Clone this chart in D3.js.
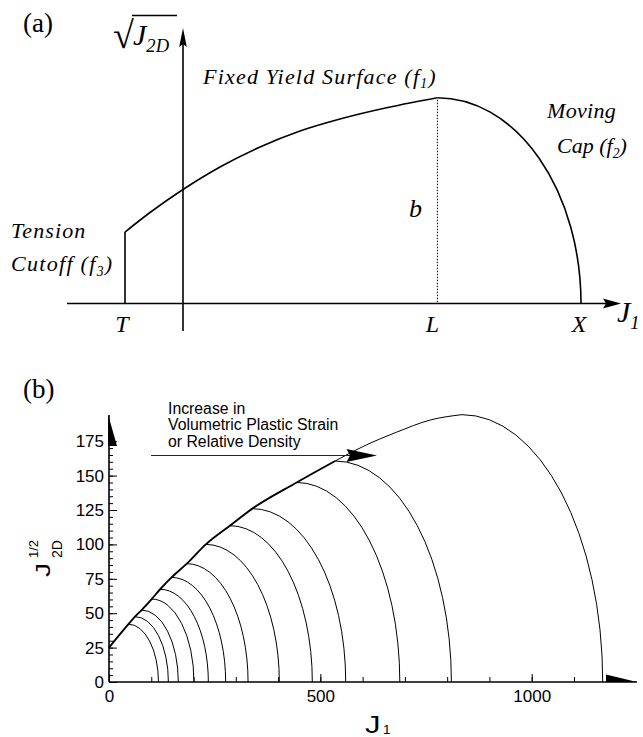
<!DOCTYPE html>
<html><head><meta charset="utf-8">
<script src="https://cdn.jsdelivr.net/npm/d3@7"></script>
<style>
  body { margin: 0; background: #fff; }
  svg text { fill: #000; }
</style>
</head>
<body>
<svg id="chart" width="643" height="737"></svg>
<script>
// ---------- (b) cap model: yield surface and cap family ----------
// cap centre (L), cap height at L (b), and cap end on the J1 axis (X)
const capL = [46, 61.5, 77, 101, 121, 148, 184, 229, 286, 339, 444, 535, 835];
const capB = [42, 47.5, 52.3, 60.3, 67.4, 76, 86, 100, 113.6, 126, 145, 160.6, 194.3];
const capX = [117, 140.5, 164, 201, 235, 276, 329, 403, 481, 560, 688, 810, 1168];

// fixed yield surface sqrt(J2D) vs J1
const yieldJ1 = [0, 46, 61.5, 77, 101, 121, 148, 184, 229, 286, 339, 444, 535, 600, 680, 760, 835];
const yieldJ2 = [25, 42, 47.5, 52.3, 60.3, 67.4, 76, 86, 100, 113.6, 126, 145, 160.6, 171, 181.5, 190.4, 194.3];

const xMajor = [0, 500, 1000];
const xMinor = d3.range(0, 1200, 100);
const yMajor = [0, 25, 50, 75, 100, 125, 150, 175];
const yMinor = d3.range(0, 180, 5);

const noteLines = ["Increase in", "Volumetric Plastic Strain", "or Relative Density"];

// ---------- (a) schematic, arbitrary units ----------
const schemU = [-14.5, -8.25, 0, 9.25, 19.25, 29.25, 39.25, 51.75, 63.6];
const schemV = [34.74, 44.22, 55.39, 66.33, 76.04, 83.82, 89.65, 95.48, 100];
const schemT = -14.5, schemLpos = 63.6, schemX = 99.5, schemB = 100;

const svg = d3.select("#chart");
const serif = "'Liberation Serif', 'Times New Roman', serif";
const sans = "'Liberation Sans', Arial, Helvetica, sans-serif";

// =================== panel (a) ===================
const xa = d3.scaleLinear().domain([0, 100]).range([183, 583]);
const ya = d3.scaleLinear().domain([0, 100]).range([303.5, 97.7]);
const ga = svg.append("g");

// axes with arrowheads
ga.append("line").attr("x1", 67).attr("x2", 606).attr("y1", ya(0)).attr("y2", ya(0))
  .attr("stroke", "#000").attr("stroke-width", 1.6);
ga.append("path").attr("d", `M603,${ya(0)-5} L621,${ya(0)} L603,${ya(0)+5} L606,${ya(0)} Z`).attr("fill", "#000");
ga.append("line").attr("x1", xa(0)).attr("x2", xa(0)).attr("y1", 331).attr("y2", 44)
  .attr("stroke", "#000").attr("stroke-width", 1.6);
ga.append("path").attr("d", `M${xa(0)-3.8},47 L${xa(0)},28 L${xa(0)+3.8},47 L${xa(0)},44 Z`).attr("fill", "#000");

// tension cutoff + fixed yield surface
const schemPts = schemU.map((u, i) => [u, schemV[i]]);
ga.append("path")
  .attr("d", d3.line().x(d => xa(d[0])).y(d => ya(d[1])).curve(d3.curveMonotoneX)(schemPts))
  .attr("fill", "none").attr("stroke", "#000").attr("stroke-width", 1.6);
ga.append("line").attr("x1", xa(schemT)).attr("x2", xa(schemT))
  .attr("y1", ya(0)).attr("y2", ya(schemV[0]))
  .attr("stroke", "#000").attr("stroke-width", 1.6);

// moving cap: quarter ellipse from (L, b) to (X, 0)
{
  const rx = xa(schemX) - xa(schemLpos), ry = ya(0) - ya(schemB);
  ga.append("path")
    .attr("d", `M${xa(schemLpos)},${ya(schemB)} A${rx},${ry} 0 0 1 ${xa(schemX)},${ya(0)}`)
    .attr("fill", "none").attr("stroke", "#000").attr("stroke-width", 1.6);
}
// b : dotted height at L
ga.append("line").attr("x1", xa(schemLpos)).attr("x2", xa(schemLpos))
  .attr("y1", ya(schemB) + 2).attr("y2", ya(0))
  .attr("stroke", "#000").attr("stroke-width", 1).attr("stroke-dasharray", "1.5,1.5");

function itText(g, x, y, size, parts, anchor, spacing) {
  const t = g.append("text").attr("x", x).attr("y", y)
    .attr("font-family", serif).attr("font-size", size).attr("font-style", "italic")
    .attr("letter-spacing", spacing || 0)
    .attr("text-anchor", anchor || "start");
  parts.forEach(p => {
    const s = t.append("tspan").text(p.t);
    if (p.sub) s.attr("font-size", size * 0.62).attr("dy", size * 0.22);
    if (p.up) s.attr("dy", -size * 0.22);
  });
  return t;
}
ga.append("text").attr("x", 23).attr("y", 32).attr("font-family", serif).attr("font-size", 27).text("(a)");

itText(ga, 203, 83.5, 22, [{t: "Fixed Yield Surface ("}, {t: "f"}, {t: "1", sub: true}, {t: ")", up: true}], null, 1.2);
itText(ga, 547, 118, 22, [{t: "Moving"}], null, 0.3);
itText(ga, 557, 153, 22, [{t: "Cap ("}, {t: "f"}, {t: "2", sub: true}, {t: ")", up: true}]);
itText(ga, 11, 238, 22, [{t: "Tension"}], null, 1.1);
itText(ga, 11, 271, 22, [{t: "Cutoff ("}, {t: "f"}, {t: "3", sub: true}, {t: ")", up: true}], null, 1.3);
itText(ga, 409, 217, 26, [{t: "b"}]);
itText(ga, xa(schemT) - 3, 332, 24, [{t: "T"}], "middle");
itText(ga, xa(schemLpos) - 5, 332, 24, [{t: "L"}], "middle");
itText(ga, xa(schemX) - 2, 332, 24, [{t: "X"}], "middle");
itText(ga, 617, 322, 30, [{t: "J"}, {t: "1", sub: true}]);

// sqrt(J2D) label
ga.append("text").attr("x", 113).attr("y", 48).attr("font-family", serif).attr("font-size", 38).text("\u221A");
ga.append("line").attr("x1", 132).attr("x2", 177).attr("y1", 15.5).attr("y2", 15.5)
  .attr("stroke", "#000").attr("stroke-width", 1.3);
itText(ga, 133, 45, 30, [{t: "J"}, {t: "2D", sub: true}]);

// =================== panel (b) ===================
const xb = d3.scaleLinear().domain([0, 1000]).range([109, 531.7]);
const yb = d3.scaleLinear().domain([0, 175]).range([682, 441.2]);
const gb = svg.append("g");

gb.append("text").attr("x", 23).attr("y", 398).attr("font-family", serif).attr("font-size", 27).text("(b)");

// minor ticks
gb.append("g").attr("transform", `translate(0,${yb(0)})`)
  .call(d3.axisBottom(xb).tickValues(xMinor).tickSize(-5).tickFormat(""))
  .call(g => g.select(".domain").remove());
gb.append("g").attr("transform", `translate(${xb(0)},0)`)
  .call(d3.axisLeft(yb).tickValues(yMinor).tickSize(-4).tickFormat(""))
  .call(g => g.select(".domain").remove());
// major ticks + labels
gb.append("g").attr("transform", `translate(0,${yb(0)})`)
  .call(d3.axisBottom(xb).tickValues(xMajor).tickSize(-8).tickPadding(8).tickFormat(d3.format("d")))
  .call(g => g.select(".domain").remove())
  .call(g => g.selectAll("text").attr("font-family", sans).attr("font-size", 17));
gb.append("g").attr("transform", `translate(${xb(0)},0)`)
  .call(d3.axisLeft(yb).tickValues(yMajor).tickSize(-8).tickPadding(5).tickFormat(d3.format("d")))
  .call(g => g.select(".domain").remove())
  .call(g => g.selectAll("text").attr("font-family", sans).attr("font-size", 17));
gb.selectAll(".tick line").attr("stroke", "#000").attr("stroke-width", 1);

// axis lines with half arrowheads
gb.append("line").attr("x1", xb(0)).attr("x2", 637).attr("y1", yb(0)).attr("y2", yb(0))
  .attr("stroke", "#000").attr("stroke-width", 1.6);
gb.append("path").attr("d", `M606,${yb(0)-7.5} L637,${yb(0)} L606,${yb(0)} Z`).attr("fill", "#000");
gb.append("line").attr("x1", xb(0)).attr("x2", xb(0)).attr("y1", yb(0)).attr("y2", 415)
  .attr("stroke", "#000").attr("stroke-width", 1.6);
gb.append("path").attr("d", `M${xb(0)-0.8},415 L${xb(0)+8},446 L${xb(0)-0.8},446 Z`).attr("fill", "#000");

// caps
capL.forEach((L, i) => {
  const rx = xb(capX[i]) - xb(L), ry = yb(0) - yb(capB[i]);
  gb.append("path")
    .attr("d", `M${xb(L)},${yb(capB[i])} A${rx},${ry} 0 0 1 ${xb(capX[i])},${yb(0)}`)
    .attr("fill", "none").attr("stroke", "#000").attr("stroke-width", 1);
});

// yield surface: heavy where every cap curve shares it, thin beyond
const yPts = yieldJ1.map((v, i) => [v, yieldJ2[i]]);
const lineB = d3.line().x(d => xb(d[0])).y(d => yb(d[1])).curve(d3.curveMonotoneX);
const split = capL[capL.length - 2];
gb.append("path").attr("d", lineB(yPts.filter(d => d[0] <= split)))
  .attr("fill", "none").attr("stroke", "#000").attr("stroke-width", 1.9);
gb.append("path").attr("d", lineB(yPts.filter(d => d[0] >= split)))
  .attr("fill", "none").attr("stroke", "#000").attr("stroke-width", 1);

// annotation
const note = gb.append("text").attr("font-family", sans).attr("font-size", 15.8);
noteLines.forEach((s, i) => note.append("tspan").attr("x", 168).attr("y", 413.5 + i * 16.5).text(s));
gb.append("line").attr("x1", 151).attr("x2", 350).attr("y1", 455.5).attr("y2", 455.5)
  .attr("stroke", "#222").attr("stroke-width", 1);
gb.append("path").attr("d", "M346.5,449 L377,455.5 L346.5,462 L350,455.5 Z").attr("fill", "#000");

// axis titles (Tecplot-style wide J)
gb.append("text").attr("transform", "translate(365,733) scale(1.35,1)")
  .attr("font-family", sans).attr("font-size", 23).text("J");
gb.append("text").attr("x", 383).attr("y", 734).attr("font-family", sans).attr("font-size", 13.5).text("1");

const yt = gb.append("g").attr("transform", "translate(50,577) rotate(-90)");
yt.append("text").attr("transform", "scale(1.35,1)").attr("font-family", sans).attr("font-size", 21).text("J");
yt.append("text").attr("x", 19).attr("y", 12).attr("font-family", sans).attr("font-size", 14).text("2D");
yt.append("text").attr("x", 19).attr("y", -12.5).attr("font-family", sans).attr("font-size", 13).text("1/2");
</script>
</body></html>
